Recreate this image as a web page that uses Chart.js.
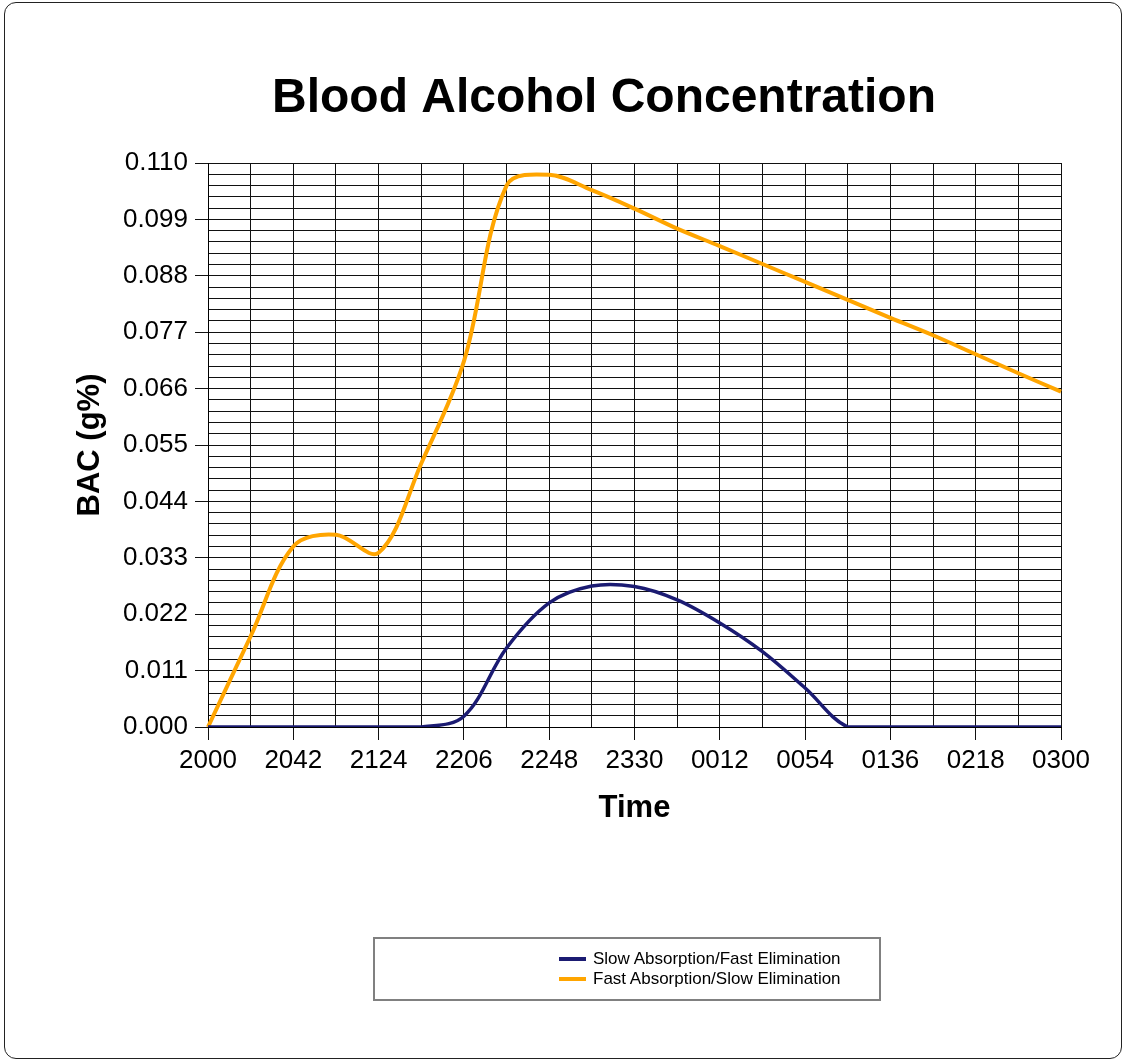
<!DOCTYPE html>
<html>
<head>
<meta charset="utf-8">
<title>Blood Alcohol Concentration</title>
<script src="https://cdn.jsdelivr.net/npm/chart.js@4/dist/chart.umd.min.js"></script>
<style>
  body { margin: 0; background: #fff; }
  #wrap { position: relative; width: 1125px; height: 1061px; }
  #frame { position: absolute; left: 4px; top: 2px; width: 1118px; height: 1057px; box-sizing: border-box;
           border: 1px solid #222; border-radius: 12px; pointer-events: none; }
  #legend { position: absolute; left: 373px; top: 937px; width: 508px; height: 64px; box-sizing: border-box;
            border: 2px solid #808080; font: 17px "Liberation Sans", Arial, sans-serif; color: #000; }
  .item { position: absolute; left: 184px; height: 20px; display: flex; align-items: center; white-space: nowrap; }
  .swatch { width: 27px; height: 4px; margin-right: 7px; }
</style>
</head>
<body>
<div id="wrap">
  <canvas id="bacChart" width="1125" height="1061"></canvas>
  <div id="frame"></div>
  <div id="legend"></div>
</div>
<script>
// time of day, one point every 21 minutes
const timeLabels = ['2000', '2021', '2042', '2103', '2124', '2145', '2206', '2227', '2248', '2309', '2330',
                    '2351', '0012', '0033', '0054', '0115', '0136', '0157', '0218', '0239', '0300'];

// BAC (g%)
const slowAbsFastElim = [0, 0, 0, 0, 0, 0, 0.0021, 0.0154, 0.0242, 0.0275, 0.0274,
                         0.0248, 0.0203, 0.0147, 0.0076, 0, 0, 0, 0, 0, 0];
const fastAbsSlowElim = [0, 0.0177, 0.0352, 0.0375, 0.0340, 0.0514, 0.0713, 0.1056, 0.1077, 0.1047, 0.1011,
                         0.0972, 0.0938, 0.0903, 0.0868, 0.0833, 0.0798, 0.0764, 0.0727, 0.0690, 0.0654];

// labelled y ticks, with 4 extra grid lines between each pair
const yMajorTicks = [0, 0.011, 0.022, 0.033, 0.044, 0.055, 0.066, 0.077, 0.088, 0.099, 0.110];
const yMinorPerMajor = 5;

const yGridValues = [];
for (let i = 0; i < yMajorTicks.length - 1; i++) {
    for (let j = 0; j < yMinorPerMajor; j++) {
        const v = yMajorTicks[i] + (yMajorTicks[i + 1] - yMajorTicks[i]) * j / yMinorPerMajor;
        yGridValues.push(Math.round(v * 100000) / 100000);
    }
}
yGridValues.push(yMajorTicks[yMajorTicks.length - 1]);

Chart.defaults.font.family = '"Liberation Sans", Arial, sans-serif';
Chart.defaults.color = '#000';

// the original centres its title a bit left of the plot: shift the title box
const titleShift = {
    id: 'titleShift',
    afterLayout(chart) {
        if (chart.titleBlock) {
            chart.titleBlock.left = 147;
            chart.titleBlock.right = chart.chartArea.right;
        }
    }
};

const ctx = document.getElementById('bacChart').getContext('2d');

const chart = new Chart(ctx, {
    type: 'line',
    data: {
        labels: timeLabels,
        datasets: [
            {
                label: 'Slow Absorption/Fast Elimination',
                data: slowAbsFastElim,
                borderColor: '#1b1b72',
                backgroundColor: '#1b1b72',
                borderWidth: 3.5
            },
            {
                label: 'Fast Absorption/Slow Elimination',
                data: fastAbsSlowElim,
                borderColor: '#ffa500',
                backgroundColor: '#ffa500',
                borderWidth: 4
            }
        ]
    },
    options: {
        responsive: false,
        animation: false,
        layout: { padding: { left: 0, right: 64, top: 0, bottom: 234 } },
        elements: {
            point: { radius: 0, hoverRadius: 0 },
            line: { tension: 0.35, fill: false }
        },
        plugins: {
            legend: { display: false },
            tooltip: { enabled: false },
            title: {
                display: true,
                text: 'Blood Alcohol Concentration',
                color: '#000',
                font: { size: 48, weight: 'bold' },
                padding: { top: 70, bottom: 35.4 }
            }
        },
        scales: {
            x: {
                grid: {
                    color: '#111',
                    lineWidth: 1,
                    tickLength: 13,
                    tickColor: c => (c.index % 2 === 0 ? '#111' : 'rgba(0,0,0,0)')
                },
                border: { color: '#000', width: 1 },
                ticks: {
                    autoSkip: false,
                    maxRotation: 0,
                    padding: 5,
                    font: { size: 26 },
                    callback: (v, i) => (i % 2 === 0 ? timeLabels[i] : '')
                },
                title: {
                    display: true,
                    text: 'Time',
                    font: { size: 31, weight: 'bold' },
                    padding: { top: 0, bottom: 0 }
                },
                afterFit: s => { s.height = 100; }
            },
            y: {
                min: 0,
                max: 0.110,
                afterBuildTicks: s => { s.ticks = yGridValues.map(v => ({ value: v })); },
                grid: {
                    color: '#111',
                    lineWidth: 1,
                    tickLength: 13,
                    tickColor: c => (c.index % yMinorPerMajor === 0 ? '#111' : 'rgba(0,0,0,0)')
                },
                border: { color: '#000', width: 1 },
                ticks: {
                    autoSkip: false,
                    padding: 7,
                    font: { size: 26 },
                    callback: (v, i) => (i % yMinorPerMajor === 0 ? v.toFixed(3) : '')
                },
                title: {
                    display: true,
                    text: 'BAC (g%)',
                    font: { size: 31, weight: 'bold' },
                    padding: { top: 72, bottom: 0 }
                },
                afterFit: s => { s.width = 208; }
            }
        }
    },
    plugins: [titleShift]
});

// legend in a box below the chart, built from the datasets
const legendBox = document.getElementById('legend');
chart.data.datasets.forEach((ds, i) => {
    const item = document.createElement('div');
    item.className = 'item';
    item.style.top = (10 + i * 20) + 'px';
    const sw = document.createElement('span');
    sw.className = 'swatch';
    sw.style.background = ds.borderColor;
    const txt = document.createElement('span');
    txt.textContent = ds.label;
    item.appendChild(sw);
    item.appendChild(txt);
    legendBox.appendChild(item);
});
</script>
</body>
</html>
